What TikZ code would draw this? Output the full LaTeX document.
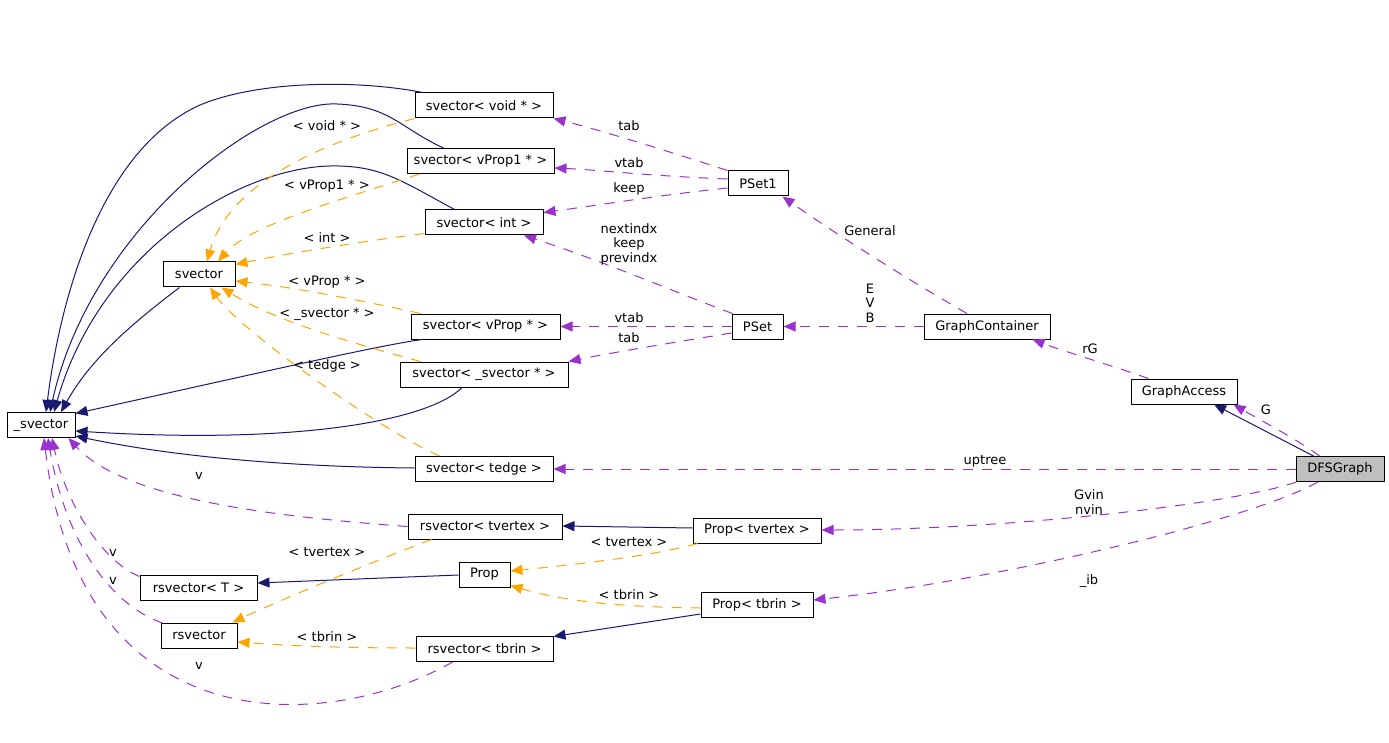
\documentclass[tikz,border=0pt]{standalone}
\usepackage{fontspec}
\setmainfont{DejaVu Sans}
\usetikzlibrary{arrows.meta}

\definecolor{edgenavy}{RGB}{25,25,112}
\definecolor{edgeorange}{RGB}{255,165,0}
\definecolor{edgepurple}{RGB}{154,50,205}
\definecolor{nodegray}{RGB}{191,191,191}

\begin{document}
\begin{tikzpicture}[x=1pt, y=-1pt,
    cls/.style={rectangle, draw, line width=1pt, inner sep=0pt, minimum height=25, text centered, font=\fontsize{13}{14.5}\selectfont},
    lbl/.style={inner sep=0pt, align=center, font=\fontsize{13}{14.5}\selectfont},
    inh/.style={draw=edgenavy, line width=1pt, -{Triangle[length=12pt,width=10pt]}, fill=none},
    tpl/.style={draw=edgeorange, line width=1pt, dash pattern=on 10pt off 9pt, -{Triangle[length=12pt,width=10pt,fill=edgeorange]}},
    usage/.style={draw=edgepurple, line width=1pt, dash pattern=on 10pt off 9pt, -{Triangle[length=12pt,width=10pt,fill=edgepurple]}}
]
\useasboundingbox (0,0) rectangle (1389,743);

% classes
\node[cls, minimum width=138] (svoid) at (484,105.5) {svector< void * >};
\node[cls, minimum width=147] (svprop1) at (480.5,161) {svector< vProp1 * >};
\node[cls, minimum width=118] (sint) at (484,222.5) {svector< int >};
\node[cls, minimum width=72] (svec) at (199,274.5) {svector};
\node[cls, minimum width=149] (svprop) at (485.5,326.5) {svector< vProp * >};
\node[cls, minimum width=168] (ssvec) at (484,374.5) {svector< \_svector * >};
\node[cls, minimum width=68] (usvec) at (41,425) {\_svector};
\node[cls, minimum width=138] (stedge) at (484,469) {svector< tedge >};
\node[cls, minimum width=154] (rstvertex) at (485,526.5) {rsvector< tvertex >};
\node[cls, minimum width=117] (rsT) at (198.5,587.5) {rsvector< T >};
\node[cls, minimum width=51] (prop) at (484.5,574.5) {Prop};
\node[cls, minimum width=76] (rsvec) at (199,635.5) {rsvector};
\node[cls, minimum width=137] (rstbrin) at (484.5,649) {rsvector< tbrin >};
\node[cls, minimum width=60] (pset1) at (758,183.5) {PSet1};
\node[cls, minimum width=51] (pset) at (757.5,326.5) {PSet};
\node[cls, minimum width=126] (gcont) at (987,326.5) {GraphContainer};
\node[cls, minimum width=106] (gaccess) at (1184,391.5) {GraphAccess};
\node[cls, minimum width=88, fill=nodegray] (dfs) at (1340,469) {DFSGraph};
\node[cls, minimum width=128] (ptvertex) at (757,530.5) {Prop< tvertex >};
\node[cls, minimum width=112] (ptbrin) at (757,605) {Prop< tbrin >};

% inheritance
\draw[inh] ([shift={(8,0)}]svoid.north west) .. controls (360,80) and (260,80) .. (200,105)
    .. controls (100,150) and (60,300) .. ([shift={(5,0)}]usvec.north);
\draw[inh] ([shift={(37,0)}]svprop1.north west) .. controls (400,128) and (390,106) .. (337,104)
    .. controls (260,100) and (90,230) .. ([shift={(9,0)}]usvec.north);
\draw[inh] ([shift={(30,0)}]sint.north west) .. controls (400,180) and (380,165) .. (330,166)
    .. controls (240,168) and (100,250) .. ([shift={(13,0)}]usvec.north);
\draw[inh] ([shift={(17,0)}]svec.south west) .. controls (130,325) and (90,360) .. ([shift={(20,0)}]usvec.north);
\draw[inh] ([shift={(12,0)}]svprop.south west) .. controls (380,345) and (250,375) .. ([shift={(0,1.5)}]usvec.north east);
\draw[inh] ([shift={(-22,0)}]ssvec.south) .. controls (430,420) and (300,445) .. ([shift={(0,6)}]usvec.east);
\draw[inh] ([shift={(0,-1)}]stedge.west) .. controls (300,467) and (180,458) .. ([shift={(0,-2)}]usvec.south east);
\draw[inh] ([shift={(0,-2.5)}]ptvertex.west) -- ([shift={(0,-0.5)}]rstvertex.east);
\draw[inh] ([shift={(0,0.5)}]prop.west) -- ([shift={(0,-4.5)}]rsT.east);
\draw[inh] ([shift={(0,9)}]ptbrin.west) -- ([shift={(0,0.5)}]rstbrin.north east);
\draw[inh] ([shift={(18,0)}]dfs.north west) -- ([shift={(30,0)}]gaccess.south);

% template instances
\draw[tpl] (svoid.south west) .. controls (330,140) and (230,180) .. ([shift={(8,0)}]svec.north);
\draw[tpl] ([shift={(13,0)}]svprop1.south west) .. controls (340,200) and (250,225) .. ([shift={(19,0)}]svec.north);
\draw[tpl] ([shift={(0,-2)}]sint.south west) .. controls (350,243) and (280,255) .. ([shift={(0,3)}]svec.north east);
\draw[tpl] ([shift={(10,0)}]svprop.north west) .. controls (350,298) and (290,287) .. ([shift={(0,6.5)}]svec.east);
\draw[tpl] ([shift={(21,0)}]ssvec.north west) .. controls (340,340) and (270,318) .. ([shift={(-14,0)}]svec.south east);
\draw[tpl] ([shift={(25,0)}]stedge.north west) .. controls (380,430) and (240,330) .. ([shift={(11,0)}]svec.south);
\draw[tpl] ([shift={(24,0)}]rstvertex.south west) .. controls (370,563) and (280,600) .. ([shift={(-5,0)}]rsvec.north east);
\draw[tpl] ([shift={(0,-1)}]rstbrin.west) .. controls (330,648) and (280,645) .. ([shift={(0,6.5)}]rsvec.east);
\draw[tpl] ([shift={(5,0)}]ptvertex.south west) .. controls (650,557) and (560,566) .. ([shift={(0,-3.5)}]prop.east);
\draw[tpl] ([shift={(0,3)}]ptbrin.west) .. controls (630,607) and (570,603) .. ([shift={(0,-2)}]prop.south east);

\node[lbl] (tvoid) at (327,126) {< void * >};
\node[lbl] (tvprop1) at (327,186) {< vProp1 * >};
\node[lbl] (tint) at (327,238) {< int >};
\node[lbl] (tvprop) at (327,282) {< vProp * >};
\node[lbl] (tsvec) at (327,314) {< \_svector * >};
\node[lbl] (ttedge) at (327,366) {< tedge >};
\node[lbl] (ttvertex) at (327,552) {< tvertex >};
\node[lbl] (ttbrin) at (327,637) {< tbrin >};
\node[lbl] (tptvertex) at (629,542) {< tvertex >};
\node[lbl] (tptbrin) at (629,595) {< tbrin >};

% usage
\draw[usage] (pset1.north west) .. controls (680,155) and (600,130) .. (svoid.south east);
\draw[usage] ([shift={(0,-4.5)}]pset1.west) .. controls (650,176) and (600,170) .. ([shift={(0,7)}]svprop1.east);
\draw[usage] ([shift={(0,4.5)}]pset1.west) .. controls (660,195) and (600,205) .. ([shift={(0,3)}]sint.north east);
\draw[usage] ([shift={(1,0)}]pset.north west) .. controls (690,298) and (600,260) .. ([shift={(40,0)}]sint.south);
\draw[usage] (pset.west) -- (svprop.east);
\draw[usage] ([shift={(0,6.5)}]pset.west) .. controls (670,343) and (610,353) .. (ssvec.north east);
\draw[usage] ([shift={(-20,0)}]gcont.north) .. controls (900,275) and (830,230) .. ([shift={(-6,0)}]pset1.south east);
\draw[usage] (gcont.west) -- (pset.east);
\draw[usage] ([shift={(18,0)}]gaccess.north west) .. controls (1110,365) and (1060,350) .. ([shift={(-18,0)}]gcont.south east);
\draw[usage] ([shift={(24,0)}]dfs.north west) .. controls (1295,438) and (1260,420) .. ([shift={(-4,0)}]gaccess.south east);
\draw[usage] (dfs.west) -- (stedge.east);
\draw[usage] ([shift={(1,0)}]dfs.south west) .. controls (1230,505) and (1000,530) .. ([shift={(0,-0.5)}]ptvertex.east);
\draw[usage] ([shift={(-22,0)}]dfs.south) .. controls (1250,520) and (1000,580) .. ([shift={(0,-5)}]ptbrin.east);
\draw[usage] (rstvertex.west) .. controls (250,515) and (120,495) .. ([shift={(-7,0)}]usvec.south east);
\draw[usage] ([shift={(0,2)}]rsT.north west) .. controls (100,560) and (65,500) .. ([shift={(11,0)}]usvec.south);
\draw[usage] ([shift={(2,0.5)}]rsvec.north west) .. controls (110,605) and (65,540) .. ([shift={(7,0)}]usvec.south);
\draw[usage] ([shift={(-32,0)}]rstbrin.south) .. controls (330,732) and (80,748) .. ([shift={(3,0)}]usvec.south);

\node[lbl] (utab1) at (629,126) {tab};
\node[lbl] (uvtab1) at (629,163) {vtab};
\node[lbl] (ukeep) at (629,189) {keep};
\node[lbl] (uindx) at (629,244) {nextindx\\keep\\previndx};
\node[lbl] (uvtab) at (629,318) {vtab};
\node[lbl] (utab) at (629,338) {tab};
\node[lbl] (ugeneral) at (870,231) {General};
\node[lbl] (uevb) at (870,303) {E\\V\\B};
\node[lbl] (urg) at (1090,349) {rG};
\node[lbl] (ug) at (1266,410) {G};
\node[lbl] (uuptree) at (985,461) {uptree};
\node[lbl] (ugvin) at (1089,502) {Gvin\\nvin};
\node[lbl] (uib) at (1089,581) {\_ib};
\node[lbl] (uv1) at (199,476) {v};
\node[lbl] (uv2) at (113,553) {v};
\node[lbl] (uv3) at (113,581) {v};
\node[lbl] (uv4) at (199,666) {v};
\end{tikzpicture}
\end{document}
